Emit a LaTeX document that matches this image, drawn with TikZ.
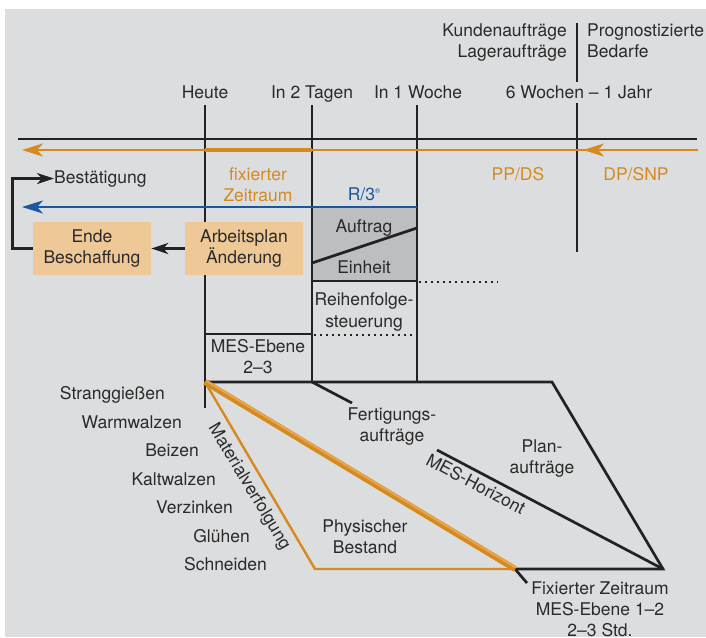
\documentclass[tikz,border=0pt]{standalone}
\usepackage{fontspec}
\setmainfont{TeX Gyre Heros}
\usetikzlibrary{arrows.meta,calc}
\definecolor{bg}{HTML}{DCDDDF}
\definecolor{ink}{HTML}{222222}
\definecolor{txt}{HTML}{2A2A2A}
\definecolor{amber}{HTML}{D68A1E}
\definecolor{amberlite}{HTML}{E6A550}
\definecolor{boxamber}{HTML}{EEC896}
\definecolor{navy}{HTML}{1B56A0}
\definecolor{cellgrey}{HTML}{BDBEC2}
\begin{document}
\begin{tikzpicture}[x=1pt,y=-1pt,
  every node/.style={inner sep=0pt, text=txt, font=\fontsize{17.5}{21}\selectfont},
  ln/.style={draw=ink, line width=2.7pt},
  dotline/.style={draw=ink, line width=2.4pt, dash pattern=on 2pt off 4pt},
  amberline/.style={draw=amber, line width=2.8pt},
  navyline/.style={draw=navy, line width=2.5pt},
  tip/.style={-{Stealth[length=21pt, width=13pt, inset=6pt]}},
  smalltip/.style={-{Stealth[length=17pt, width=11pt, inset=5pt]}},
  planbox/.style={fill=boxamber, minimum width=118pt, minimum height=53pt, align=center},
  procstep/.style={anchor=base east}]
\useasboundingbox (0,0) rectangle (706,637);
\fill[white] (0,0) rectangle (706,637);
\fill[bg] (5,9) rectangle (706,637);

% time markers
\coordinate (hT) at (205,105);  \coordinate (hB) at (205,408);
\coordinate (tT) at (312,105);  \coordinate (tB) at (312,382);
\coordinate (wT) at (417,105);  \coordinate (wB) at (417,382);
\coordinate (jT) at (577,103);  \coordinate (jB) at (577,252);
\coordinate (kT) at (577,23);   \coordinate (kB) at (577,82);

% shaded order/unit cell
\fill[cellgrey] (312,207) rectangle (417,281);

% vertical time lines
\draw[ln] (hT) -- (hB);
\draw[ln] (tT) -- (tB);
\draw[ln] (wT) -- (wB);
\draw[ln] (jT) -- (jB);
\draw[ln] (kT) -- (kB);

% time axis
\coordinate (axL) at (18,139);  \coordinate (axR) at (697,139);
\draw[ln] (axL) -- (axR);

% cell subdivisions
\coordinate (aL) at (312,263);  \coordinate (aR) at (417,228);
\draw[ln] (aL) -- (aR);
\coordinate (eL) at (312,281);  \coordinate (eR) at (417,281);
\draw[ln] (eL) -- (eR);
\coordinate (eD) at (498,282);
\draw[dotline] (419,282) -- (eD);
\coordinate (rL) at (314,335);  \coordinate (rR) at (417,335);
\draw[dotline] (rL) -- (rR);
\coordinate (mL) at (205,334);
\draw[ln] (mL) -- (312,334);

% horizon trapezoid
\coordinate (p0) at (205,382);
\coordinate (p1) at (552,382);
\coordinate (p2) at (663,569);
\coordinate (p3) at (515,569);
\coordinate (p4) at (315,569);
\draw[ln, line join=miter] (p0) -- (p1) -- (p2) -- (p3);
\coordinate (fA) at (352,403);
\draw[ln] (tB) -- (fA);
\coordinate (hzA) at (437,450);
\draw[ln] (hzA) -- (p2);
\coordinate (fz) at (527,583);
\draw[ln] (p3) -- (fz);

% material tracking
\draw[amber, line width=2.4pt, line join=round] (p0) -- (p4) -- (p3);
\draw[amber, line width=6pt] (p0) -- (p3);
\draw[amberlite, line width=2pt] ($(p0)+(0.8,-1.4)$) -- ($(p3)+(0.8,-1.4)$);

% planning arrows
\coordinate (oR) at (698,150);  \coordinate (oL) at (22,150);
\draw[amberline, tip] (oR) -- (oL);
\coordinate (oM1) at (608,150); \coordinate (oM2) at (583,150);
\draw[amberline, tip] (oM1) -- (oM2);
\draw[amber, line width=4.8pt] (205,150) -- (312,150);

\coordinate (bR) at (417,207);  \coordinate (bL) at (22,207);
\draw[navyline, tip] (bR) -- (bL);

% boxes
\node[planbox] (ende) at (92,248.5) {Ende\\Beschaffung};
\node[planbox] (plan) at (244,248.5) {Arbeitsplan\\Änderung};
\draw[ln, smalltip] (plan.west) -- (ende.east);
\node[anchor=base west] (best) at (54,183) {Bestätigung};
\draw[ln, smalltip, line join=miter] (ende.west) -- ++(-20,0) |- (best.west);

% labels above the axis
\node[anchor=base] (heute) at (205,98) {Heute};
\node[anchor=base] (tage) at (312,98) {In 2 Tagen};
\node[anchor=base] (woche) at (418,98) {In 1 Woche};
\node[anchor=base] (jahr) at (579,98) {6 Wochen – 1 Jahr};
\node[anchor=base east] (kunde) at (567,36) {Kundenaufträge};
\node[anchor=base east] (lager) at (567,57) {Lageraufträge};
\node[anchor=base west] (progn) at (587,36) {Prognostizierte};
\node[anchor=base west] (bedarf) at (587,57) {Bedarfe};

% labels below the axis
\node[anchor=base, text=amber] (fix1) at (258,180) {fixierter};
\node[anchor=base, text=amber] (fix2) at (258,201) {Zeitraum};
\node[anchor=base, text=navy] (r3) at (364,200) {R/3{\fontsize{7}{7}\selectfont\raisebox{7pt}{®}}};
\node[anchor=base, text=amber] (ppds) at (518,180) {PP/DS};
\node[anchor=base, text=amber] (dpsnp) at (636,180) {DP/SNP};

\node[anchor=base] (auftrag) at (364,232) {Auftrag};
\node[anchor=base] (einheit) at (364,273) {Einheit};
\node[anchor=base] (reihe1) at (364,305) {Reihenfolge-};
\node[anchor=base] (reihe2) at (364,327) {steuerung};
\node[anchor=base] (mes1) at (258,352) {MES-Ebene};
\node[anchor=base] (mes2) at (258,373) {2–3};

\node[anchor=base] (fert1) at (392,420) {Fertigungs-};
\node[anchor=base] (fert2) at (392,441) {aufträge};
\node[anchor=base] (plan1) at (542,452) {Plan-};
\node[anchor=base] (plan2) at (542,473) {aufträge};
\node[anchor=base] (phys1) at (365,532) {Physischer};
\node[anchor=base] (phys2) at (365,553) {Bestand};
\node[anchor=base] (fixz1) at (600,594) {Fixierter Zeitraum};
\node[anchor=base] (fixz2) at (600,615) {MES-Ebene 1–2};
\node[anchor=base] (fixz3) at (600,636) {2–3 Std.};

\node[rotate=-28] (horiz) at (476,484) {MES-Horizont};
\node[rotate=-59] (matv) at (249,487) {Materialverfolgung};

% process steps
\node[procstep] (s1) at (165,399) {Stranggießen};
\node[procstep] (s2) at (182,428) {Warmwalzen};
\node[procstep] (s3) at (199,456) {Beizen};
\node[procstep] (s4) at (216,485) {Kaltwalzen};
\node[procstep] (s5) at (233,513) {Verzinken};
\node[procstep] (s6) at (250,542) {Glühen};
\node[procstep] (s7) at (267,570) {Schneiden};
\end{tikzpicture}
\end{document}
